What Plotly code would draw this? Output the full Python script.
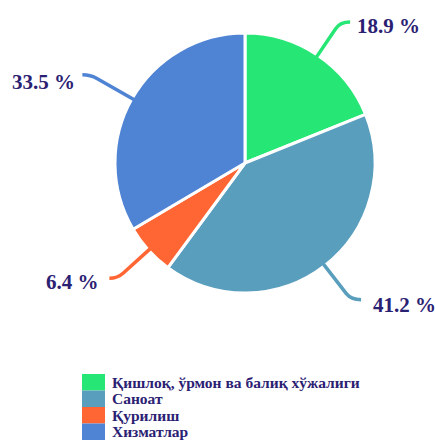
import math
import plotly.graph_objects as go

categories = ["Қишлоқ, ўрмон ва балиқ хўжалиги", "Саноат", "Қурилиш", "Хизматлар"]
values = [18.9, 41.2, 6.4, 33.5]
labels = ["18.9 %", "41.2 %", "6.4 %", "33.5 %"]
colors = ["#26E675", "#5A9EBE", "#FF6633", "#4F83D4"]

W, H = 435, 440
CX, CY, R = 245, 163, 130
TXT = "#2B2173"
FONT = "Liberation Serif"

fig = go.Figure()
fig.add_trace(go.Pie(
    labels=categories, values=values, sort=False, direction="clockwise",
    rotation=0, textinfo="none", hoverinfo="label+percent",
    marker=dict(colors=colors, line=dict(color="white", width=3)),
    domain=dict(x=[(CX - R) / W, (CX + R) / W], y=[1 - (CY + R) / H, 1 - (CY - R) / H]),
    showlegend=False,
))

def px(x, y):
    return x / W, 1 - y / H

shapes = []
annotations = []
total = sum(values)
cum = 0
leader = [(42, 10), (45, 10), (44, -8), (50, -8)]
gap = [5, 10, 8, 5]
dy_txt = [4, 5, 4, 7]
for i, v in enumerate(values):
    mid = (cum + v / 2) / total * 2 * math.pi
    cum += v
    dx, dy = math.sin(mid), -math.cos(mid)
    L, hz = leader[i]
    x0, y0 = CX + (R - 2) * dx, CY + (R - 2) * dy
    x1, y1 = CX + (R - 2 + L) * dx, CY + (R - 2 + L) * dy
    side = 1 if dx > 0 else -1
    xb, yb = x1 - 8 * dx, y1 - 8 * dy
    x2, y2 = x1 + side * abs(hz), y1
    pts = [px(x0, y0), px(xb, yb), px(x1, y1), px(x2, y2)]
    path = "M {:.4f},{:.4f} L {:.4f},{:.4f} Q {:.4f},{:.4f} {:.4f},{:.4f}".format(
        *pts[0], *pts[1], *pts[2], *pts[3])
    shapes.append(dict(type="path", path=path, xref="paper", yref="paper",
                       line=dict(color=colors[i], width=3.5)))
    tx, ty = px(x2 + side * gap[i], y1 + dy_txt[i])
    annotations.append(dict(
        x=tx, y=ty, xref="paper", yref="paper", text=labels[i], showarrow=False,
        xanchor="left" if side > 0 else "right", yanchor="middle",
        font=dict(family=FONT, size=21, color=TXT, weight="bold")))

# custom legend
LX0, LX1, LY0, LH = 82, 105, 374, 16.5
for i, c in enumerate(categories):
    ya, yb = LY0 + i * LH, LY0 + (i + 1) * LH
    shapes.append(dict(type="rect", xref="paper", yref="paper",
                       x0=LX0 / W, x1=LX1 / W, y0=1 - yb / H, y1=1 - ya / H,
                       fillcolor=colors[i], line=dict(width=0)))
    annotations.append(dict(
        x=110 / W, y=1 - (ya + yb) / 2 / H, xref="paper", yref="paper", text=c,
        showarrow=False, xanchor="left", yanchor="middle",
        font=dict(family=FONT, size=15.5, color=TXT, weight="bold")))

fig.update_layout(
    width=W, height=H, margin=dict(l=0, r=0, t=0, b=0),
    paper_bgcolor="white", plot_bgcolor="white",
    shapes=shapes, annotations=annotations,
)
fig.write_html("out.html", config={"displayModeBar": False},
               post_script="document.body.style.margin='0';document.body.style.overflow='hidden';")
